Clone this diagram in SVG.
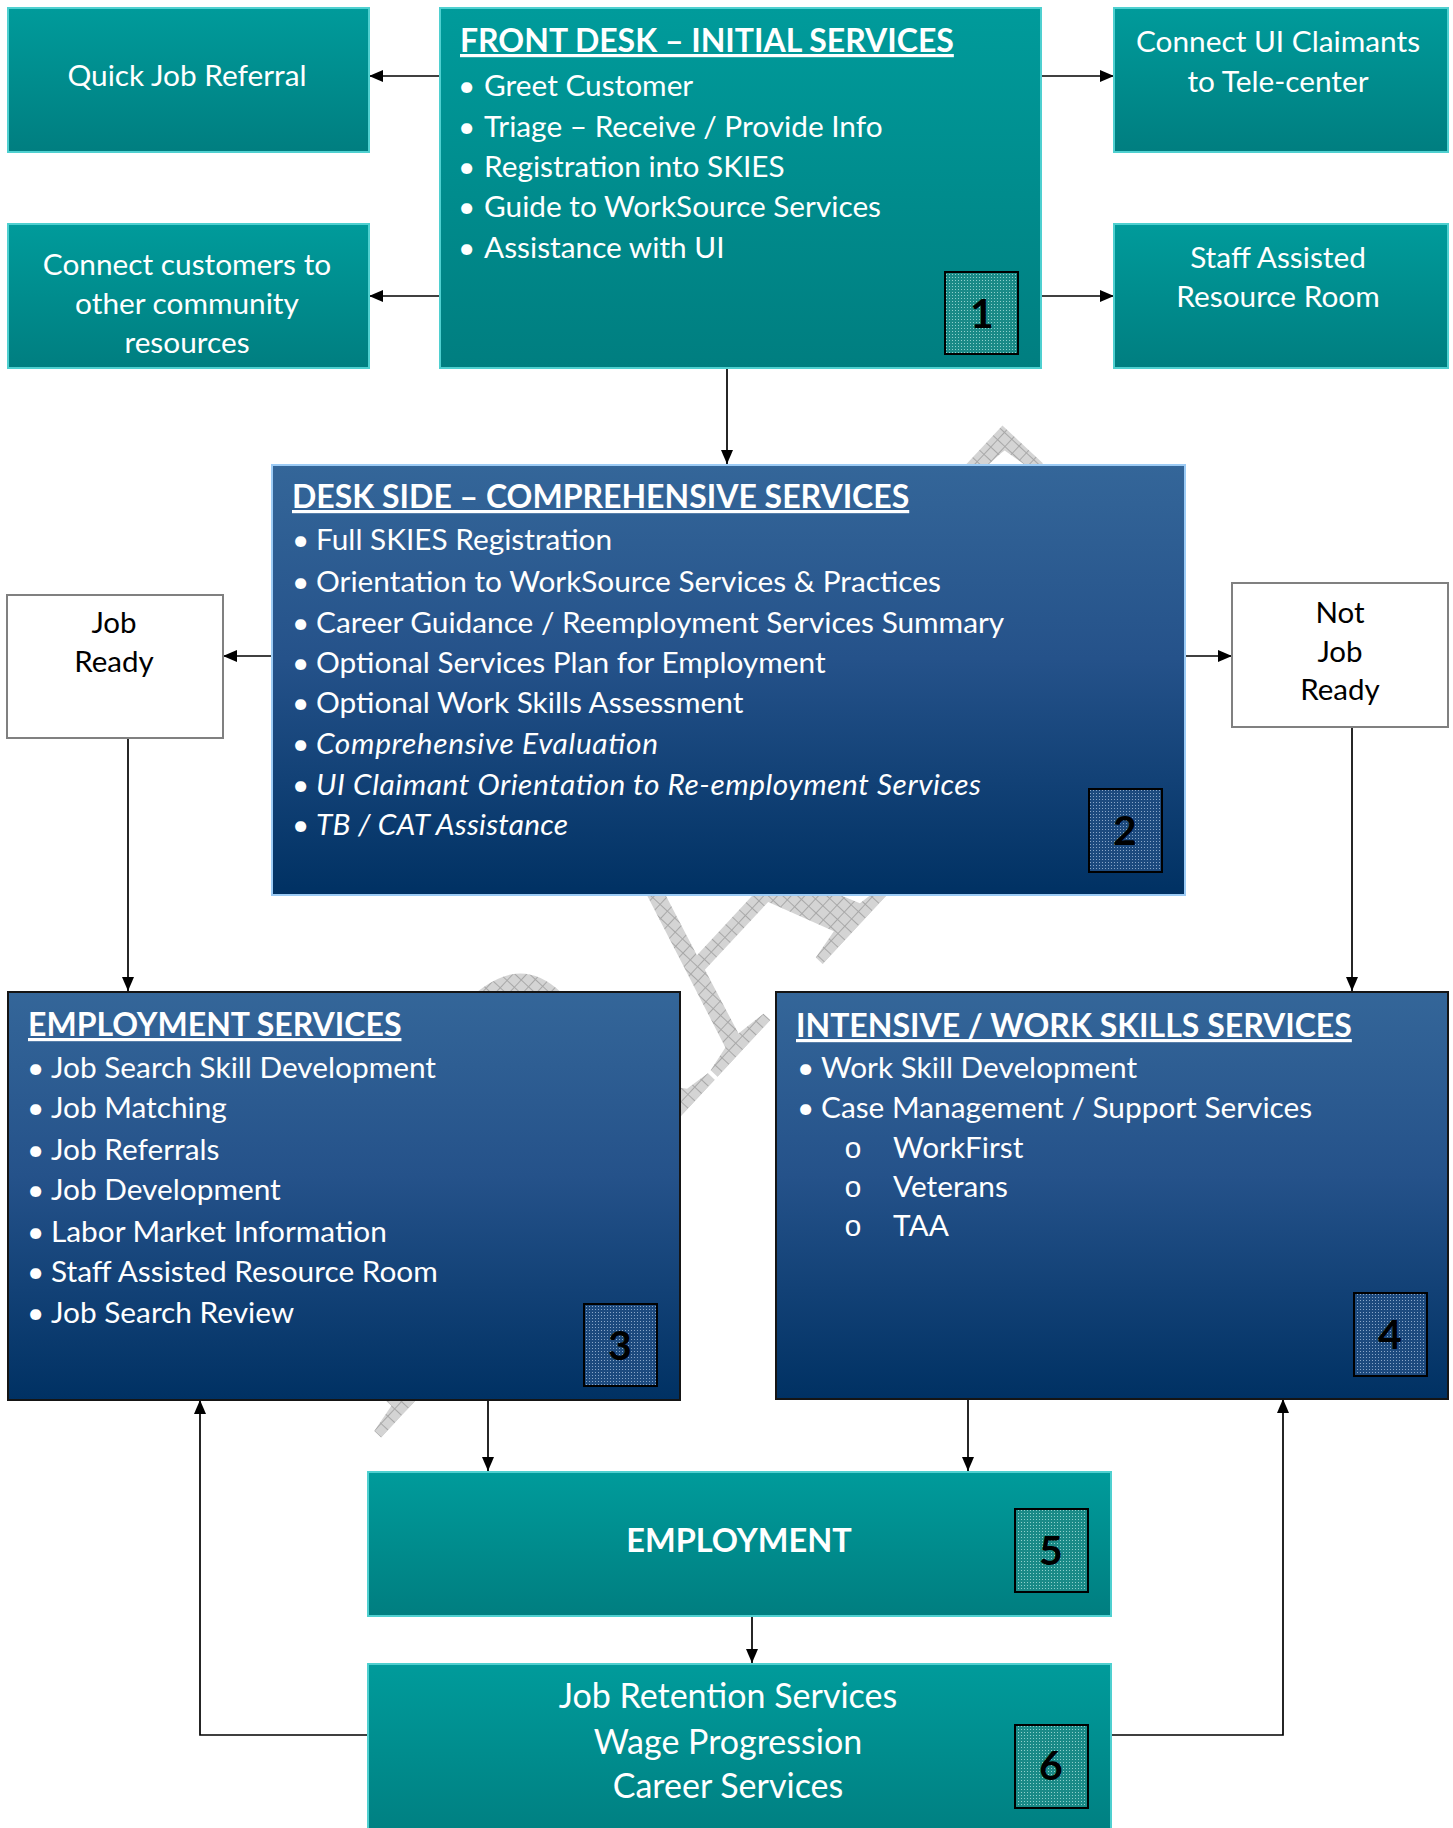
<svg xmlns="http://www.w3.org/2000/svg" width="1453" height="1828" viewBox="0 0 1453 1828">
<defs>
<linearGradient id="teal" x1="0" y1="0" x2="0" y2="1"><stop offset="0" stop-color="#009b9b"/><stop offset="1" stop-color="#007e80"/></linearGradient>
<linearGradient id="blue" x1="0" y1="0" x2="0" y2="1"><stop offset="0" stop-color="#346699"/><stop offset="0.45" stop-color="#25528a"/><stop offset="1" stop-color="#003163"/></linearGradient>
<pattern id="wm" width="10" height="10" patternUnits="userSpaceOnUse"><rect width="10" height="10" fill="#d4d4d4"/><path d="M0,0.5H10M0.5,0V10" stroke="#a8a8a8" stroke-width="1"/></pattern>
<pattern id="dotT" width="3" height="3" patternUnits="userSpaceOnUse"><rect width="3" height="3" fill="#1a8a87"/><rect x="1" y="1" width="1" height="1" fill="#8fd0cc"/></pattern>
<pattern id="dotB" width="3" height="3" patternUnits="userSpaceOnUse"><rect width="3" height="3" fill="#1d4a7e"/><rect x="1" y="1" width="1" height="1" fill="#8aa6c8"/></pattern>
<marker id="ah" markerUnits="userSpaceOnUse" markerWidth="14" markerHeight="12" refX="14" refY="6" orient="auto"><path d="M0,0 L14,6 L0,12 z" fill="#000"/></marker>
</defs>
<style>
.tbox{fill:url(#teal);stroke:#4fd0d0;stroke-width:2}
.bbox{fill:url(#blue);stroke:#151515;stroke-width:2}
.wbox{fill:#fff;stroke:#808080;stroke-width:2}
.badgeT{fill:url(#dotT);stroke:#000;stroke-width:2}
.badgeB{fill:url(#dotB);stroke:#000;stroke-width:2}
text{font-family:Lato,"Open Sans","DejaVu Sans",sans-serif}
.w{fill:#fff;font-size:29.8px}
.wc{fill:#fff;font-size:29.8px;text-anchor:middle}
.k{fill:#000;font-size:29.5px;text-anchor:middle}
.ttl{fill:#fff;font-size:32px;font-weight:bold;text-decoration:underline}
.num{fill:#000;font-size:41px;font-weight:bold;text-anchor:middle}
.it{font-style:italic}
.sub{font-family:"Liberation Mono",monospace;font-size:30px}
.conn{fill:none;stroke:#000;stroke-width:1.7;marker-end:url(#ah)}
</style>
<rect width="1453" height="1828" fill="#fff"/>
<g id="watermark">
<text x="0" y="0" transform="translate(374,1445) rotate(-47)" style="font-family:'Liberation Serif',serif;font-size:360px;fill:url(#wm)">DRAFT</text>
</g>
<g id="connectors">
<path class="conn" d="M440,76 L369,76"/>
<path class="conn" d="M440,296 L369,296"/>
<path class="conn" d="M1041,76 L1114,76"/>
<path class="conn" d="M1041,296 L1114,296"/>
<path class="conn" d="M727,368 L727,464"/>
<path class="conn" d="M271,656 L223,656"/>
<path class="conn" d="M1186,656 L1232,656"/>
<path class="conn" d="M128,738 L128,991"/>
<path class="conn" d="M1352,727 L1352,991"/>
<path class="conn" d="M488,1400 L488,1471"/>
<path class="conn" d="M968,1399 L968,1471"/>
<path class="conn" d="M752,1616 L752,1663"/>
<path class="conn" d="M367,1735 L200,1735 L200,1400"/>
<path class="conn" d="M1112,1735 L1283,1735 L1283,1399"/>
</g>
<g id="quick-job-referral">
<rect class="tbox" x="8" y="8" width="361" height="144"/>
<text class="wc" x="187" y="86">Quick Job Referral</text>
</g>
<g id="connect-customers">
<rect class="tbox" x="8" y="224" width="361" height="144"/>
<text class="wc" x="187" y="275">Connect customers to</text>
<text class="wc" x="187" y="314">other community</text>
<text class="wc" x="187" y="353">resources</text>
</g>
<g id="front-desk">
<rect class="tbox" x="440" y="8" width="601" height="360"/>
<text class="ttl" x="460" y="52">FRONT DESK – INITIAL SERVICES</text>
<text class="w" y="96"><tspan x="458">•</tspan><tspan x="484">Greet Customer</tspan></text>
<text class="w" y="137"><tspan x="458">•</tspan><tspan x="484">Triage – Receive / Provide Info</tspan></text>
<text class="w" y="177"><tspan x="458">•</tspan><tspan x="484">Registration into SKIES</tspan></text>
<text class="w" y="217"><tspan x="458">•</tspan><tspan x="484">Guide to WorkSource Services</tspan></text>
<text class="w" y="258"><tspan x="458">•</tspan><tspan x="484">Assistance with UI</tspan></text>
<rect class="badgeT" x="945" y="272" width="73" height="82"/>
<text class="num" x="982" y="328">1</text>
</g>
<g id="connect-ui">
<rect class="tbox" x="1114" y="8" width="334" height="144"/>
<text class="wc" x="1278" y="52">Connect UI Claimants</text>
<text class="wc" x="1278" y="92">to Tele-center</text>
</g>
<g id="staff-assisted">
<rect class="tbox" x="1114" y="224" width="334" height="144"/>
<text class="wc" x="1278" y="268">Staff Assisted</text>
<text class="wc" x="1278" y="307">Resource Room</text>
</g>
<g id="desk-side">
<rect x="272" y="465" width="913" height="430" fill="url(#blue)" stroke="#9ccbf5" stroke-width="2"/>
<text class="ttl" x="292" y="508">DESK SIDE – COMPREHENSIVE SERVICES</text>
<text class="w" y="550"><tspan x="292">•</tspan><tspan x="316">Full SKIES Registration</tspan></text>
<text class="w" y="592"><tspan x="292">•</tspan><tspan x="316">Orientation to WorkSource Services &amp; Practices</tspan></text>
<text class="w" y="633"><tspan x="292">•</tspan><tspan x="316">Career Guidance / Reemployment Services Summary</tspan></text>
<text class="w" y="673"><tspan x="292">•</tspan><tspan x="316">Optional Services Plan for Employment</tspan></text>
<text class="w" y="713"><tspan x="292">•</tspan><tspan x="316">Optional Work Skills Assessment</tspan></text>
<text class="w" y="754"><tspan x="292">•</tspan></text>
<text class="w it" x="316" y="754" textLength="342" lengthAdjust="spacing">Comprehensive Evaluation</text>
<text class="w" y="795"><tspan x="292">•</tspan></text>
<text class="w it" x="316" y="795" textLength="665" lengthAdjust="spacing">UI Claimant Orientation to Re-employment Services</text>
<text class="w" y="835"><tspan x="292">•</tspan></text>
<text class="w it" x="316" y="835" textLength="252" lengthAdjust="spacing">TB / CAT Assistance</text>
<rect class="badgeB" x="1089" y="789" width="73" height="83"/>
<text class="num" x="1125" y="845">2</text>
</g>
<g id="job-ready">
<rect class="wbox" x="7" y="595" width="216" height="143"/>
<text class="k" x="114" y="633">Job</text>
<text class="k" x="114" y="672">Ready</text>
</g>
<g id="not-job-ready">
<rect class="wbox" x="1232" y="583" width="216" height="144"/>
<text class="k" x="1340" y="623">Not</text>
<text class="k" x="1340" y="662">Job</text>
<text class="k" x="1340" y="700">Ready</text>
</g>
<g id="employment-services">
<rect class="bbox" x="8" y="992" width="672" height="408"/>
<text class="ttl" x="28" y="1036">EMPLOYMENT SERVICES</text>
<text class="w" y="1078"><tspan x="27">•</tspan><tspan x="51">Job Search Skill Development</tspan></text>
<text class="w" y="1118"><tspan x="27">•</tspan><tspan x="51">Job Matching</tspan></text>
<text class="w" y="1160"><tspan x="27">•</tspan><tspan x="51">Job Referrals</tspan></text>
<text class="w" y="1200"><tspan x="27">•</tspan><tspan x="51">Job Development</tspan></text>
<text class="w" y="1242"><tspan x="27">•</tspan><tspan x="51">Labor Market Information</tspan></text>
<text class="w" y="1282"><tspan x="27">•</tspan><tspan x="51">Staff Assisted Resource Room</tspan></text>
<text class="w" y="1323"><tspan x="27">•</tspan><tspan x="51">Job Search Review</tspan></text>
<rect class="badgeB" x="584" y="1304" width="73" height="82"/>
<text class="num" x="620" y="1360">3</text>
</g>
<g id="intensive-services">
<rect class="bbox" x="776" y="992" width="672" height="407"/>
<text class="ttl" x="796" y="1037">INTENSIVE / WORK SKILLS SERVICES</text>
<text class="w" y="1078"><tspan x="797">•</tspan><tspan x="821">Work Skill Development</tspan></text>
<text class="w" y="1118"><tspan x="797">•</tspan><tspan x="821">Case Management / Support Services</tspan></text>
<text class="w" y="1158"><tspan class="sub" x="844">o</tspan><tspan x="893">WorkFirst</tspan></text>
<text class="w" y="1197"><tspan class="sub" x="844">o</tspan><tspan x="893">Veterans</tspan></text>
<text class="w" y="1236"><tspan class="sub" x="844">o</tspan><tspan x="893">TAA</tspan></text>
<rect class="badgeB" x="1354" y="1293" width="73" height="83"/>
<text class="num" x="1390" y="1349">4</text>
</g>
<g id="employment">
<rect class="tbox" x="368" y="1472" width="743" height="144"/>
<text x="739" y="1552" style="fill:#fff;font-size:32.5px;font-weight:bold;text-anchor:middle">EMPLOYMENT</text>
<rect class="badgeT" x="1015" y="1509" width="73" height="83"/>
<text class="num" x="1051" y="1565">5</text>
</g>
<g id="job-retention">
<rect class="tbox" x="368" y="1664" width="743" height="180"/>
<text class="wc" x="728" y="1708" style="font-size:34px">Job Retention Services</text>
<text class="wc" x="728" y="1754" style="font-size:34px">Wage Progression</text>
<text class="wc" x="728" y="1798" style="font-size:34px">Career Services</text>
<rect class="badgeT" x="1015" y="1725" width="73" height="83"/>
<text class="num" x="1051" y="1780">6</text>
</g>
</svg>
